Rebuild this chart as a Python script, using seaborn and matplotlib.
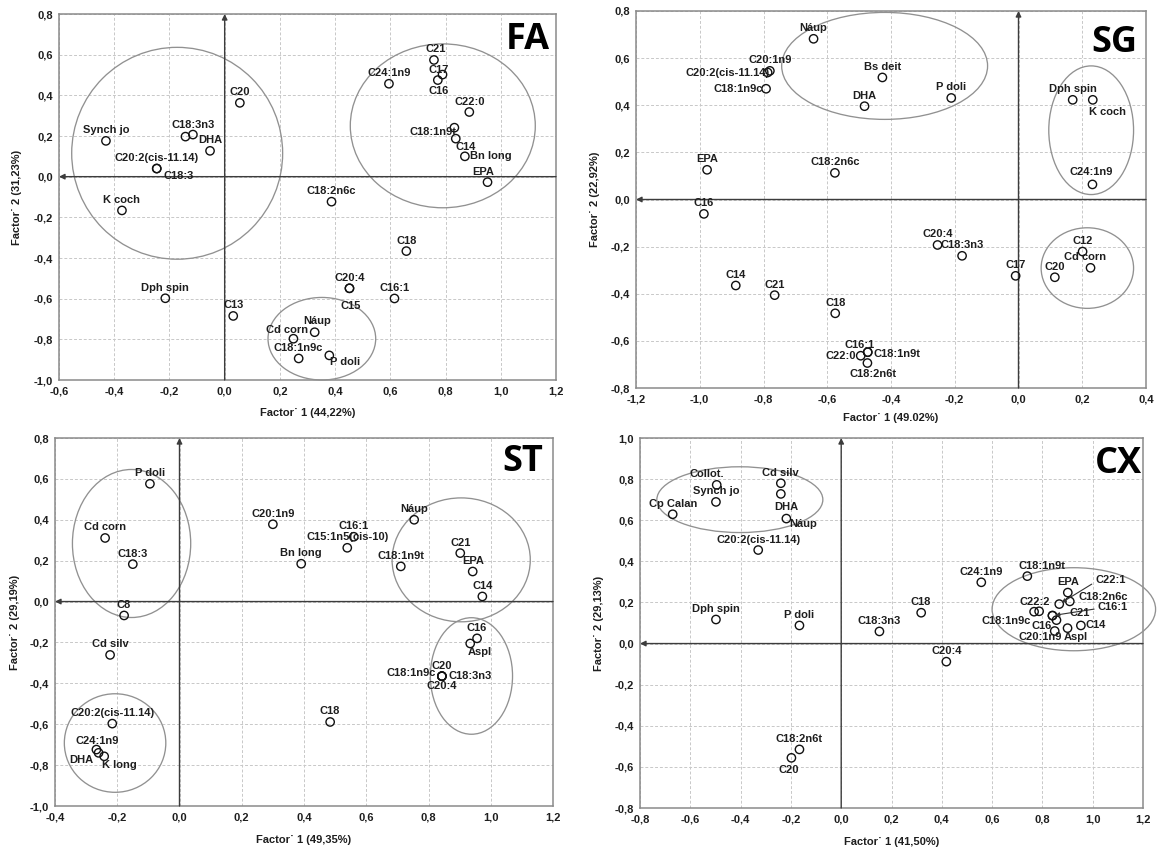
import matplotlib
matplotlib.use("Agg")
import matplotlib.pyplot as plt
import matplotlib.ticker as mticker
from matplotlib.patches import Ellipse
import numpy as np
import pandas as pd
import seaborn as sns

# ------------------------------------------------------------------ data
# FA panel
fa_names = ["Synch jo", "C20:2(cis-11.14)", "C18:3", "C18:3n3", "", "DHA", "C20",
            "K coch", "C18:2n6c", "C24:1n9", "C21", "C17", "C16", "C22:0",
            "C18:1n9t", "C14", "Bn long", "EPA", "C18", "C20:4", "C15", "C16:1",
            "Dph spin", "C13", "Cd corn", "Náup", "C18:1n9c", "P doli"]
fa_x = [-0.43, -0.246, -0.246, -0.142, -0.115, -0.053, 0.055,
        -0.372, 0.387, 0.595, 0.758, 0.789, 0.772, 0.886,
        0.832, 0.837, 0.870, 0.952, 0.658, 0.452, 0.452, 0.615,
        -0.215, 0.031, 0.249, 0.326, 0.268, 0.379]
fa_y = [0.176, 0.040, 0.040, 0.197, 0.207, 0.127, 0.363,
        -0.166, -0.123, 0.457, 0.574, 0.502, 0.475, 0.318,
        0.241, 0.187, 0.100, -0.027, -0.366, -0.549, -0.549, -0.599,
        -0.598, -0.685, -0.797, -0.765, -0.894, -0.879]
fa_group_cx = [-0.172, 0.79, 0.352]
fa_group_cy = [0.115, 0.25, -0.797]
fa_group_rx = [0.382, 0.335, 0.195]
fa_group_ry = [0.521, 0.403, 0.203]

# SG panel
sg_names = ["Náup", "C20:1n9", "C20:2(cis-11.14)", "C18:1n9c", "Bs deit", "DHA",
            "P doli", "Dph spin", "K coch", "C24:1n9", "EPA", "C18:2n6c", "C16",
            "C20:4", "C18:3n3", "C17", "C20", "C12", "Cd corn", "C14", "C21",
            "C18", "C16:1", "C18:1n9t", "C22:0", "C18:2n6t"]
sg_x = [-0.643, -0.780, -0.787, -0.792, -0.427, -0.483,
        -0.211, 0.170, 0.233, 0.232, -0.977, -0.576, -0.987,
        -0.254, -0.177, -0.009, 0.114, 0.201, 0.226, -0.887, -0.765,
        -0.575, -0.473, -0.473, -0.495, -0.474]
sg_y = [0.682, 0.546, 0.539, 0.470, 0.518, 0.396,
        0.431, 0.423, 0.423, 0.064, 0.126, 0.113, -0.061,
        -0.193, -0.239, -0.324, -0.330, -0.221, -0.290, -0.365, -0.406,
        -0.483, -0.648, -0.648, -0.663, -0.694]
sg_group_cx = [-0.420, 0.228, 0.216]
sg_group_cy = [0.567, 0.294, -0.291]
sg_group_rx = [0.323, 0.133, 0.145]
sg_group_ry = [0.227, 0.273, 0.171]

# ST panel
st_names = ["P doli", "Cd corn", "C18:3", "C8", "C20:1n9", "Bn long",
            "C15:1n5(cis-10)", "C16:1", "C18:1n9t", "Náup", "C21", "EPA", "C14",
            "C16", "Aspl", "C20", "C18:1n9c", "C18:3n3", "C20:4", "Cd silv",
            "C20:2(cis-11.14)", "C24:1n9", "DHA", "K long", "C18"]
st_x = [-0.095, -0.239, -0.150, -0.178, 0.300, 0.391,
        0.539, 0.560, 0.711, 0.754, 0.902, 0.942, 0.973,
        0.956, 0.934, 0.843, 0.843, 0.843, 0.843, -0.223,
        -0.216, -0.267, -0.260, -0.242, 0.484]
st_y = [0.576, 0.311, 0.183, -0.068, 0.378, 0.185,
        0.263, 0.317, 0.172, 0.400, 0.237, 0.147, 0.025,
        -0.180, -0.205, -0.365, -0.365, -0.365, -0.365, -0.261,
        -0.597, -0.724, -0.740, -0.757, -0.589]
st_group_cx = [-0.154, -0.207, 0.905, 0.938]
st_group_cy = [0.284, -0.692, 0.204, -0.364]
st_group_rx = [0.190, 0.163, 0.222, 0.132]
st_group_ry = [0.362, 0.241, 0.303, 0.285]

# CX panel
cx_names = ["Collot.", "Synch jo", "Cp Calan", "Cd silv", "DHA", "Náup",
            "C20:2(cis-11.14)", "Dph spin", "P doli", "C18:3n3", "C18", "C24:1n9",
            "C18:1n9t", "C20:4", "C18:2n6t", "C20", "EPA", "C18:2n6c", "C22:1",
            "C22:2", "C18:1n9c", "C16:1", "C16", "C21", "C20:1n9", "Aspl", "C14"]
cx_x = [-0.495, -0.498, -0.670, -0.240, -0.240, -0.218,
        -0.330, -0.498, -0.166, 0.152, 0.318, 0.557,
        0.740, 0.418, -0.166, -0.198, 0.901, 0.909, 0.867,
        0.787, 0.767, 0.840, 0.840, 0.856, 0.849, 0.900, 0.953]
cx_y = [0.772, 0.689, 0.629, 0.780, 0.728, 0.608,
        0.455, 0.117, 0.088, 0.059, 0.150, 0.298,
        0.328, -0.088, -0.515, -0.556, 0.248, 0.205, 0.192,
        0.157, 0.155, 0.136, 0.136, 0.114, 0.061, 0.075, 0.088]
cx_group_cx = [-0.403, 0.925]
cx_group_cy = [0.700, 0.167]
cx_group_rx = [0.330, 0.325]
cx_group_ry = [0.160, 0.202]

axis_limits = {
    "FA": ((-0.6, 1.2), (-1.0, 0.8)),
    "SG": ((-1.2, 0.4), (-0.8, 0.8)),
    "ST": ((-0.4, 1.2), (-1.0, 0.8)),
    "CX": ((-0.8, 1.2), (-0.8, 1.0)),
}
x_titles = {"FA": "Factor˙ 1 (44,22%)", "SG": "Factor˙ 1 (49.02%)",
            "ST": "Factor˙ 1 (49,35%)", "CX": "Factor˙ 1 (41,50%)"}
y_titles = {"FA": "Factor˙ 2 (31,23%)", "SG": "Factor˙ 2 (22,92%)",
            "ST": "Factor˙ 2 (29,19%)", "CX": "Factor˙ 2 (29,13%)"}

# ------------------------------------------------------------------ layout
W, H = 1159, 852
PANEL_BOX = {  # left, top, right, bottom in pixels
    "FA": (59, 14, 556, 380),
    "SG": (636, 11, 1146, 388),
    "ST": (55, 438, 553, 806),
    "CX": (640, 438, 1143, 808),
}
LETTER_POS = {"FA": (6, 35), "SG": (9, 41), "ST": (10, 33), "CX": (1, 35)}
XLABEL_OFF = {"FA": 33, "SG": 30, "ST": 34, "CX": 34}
YLABEL_OFF = {"FA": 42, "SG": 41, "ST": 40, "CX": 41}
DEFAULT_DY = 10.5

LABEL_OFFSETS = {
    "FA": {"C18:3": (22, -7, "center"), "C18:3n3": (8, 12, "center"),
           "C21": (2, 11, "center"), "C17": (-4, 5, "center"),
           "C16": (1, -11, "center"), "C18:1n9t": (2, -4, "right"),
           "C14": (10, -8, "center"), "Bn long": (5, 0, "left"),
           "EPA": (-4, 10, "center"), "C15": (1, -18, "center"),
           "P doli": (16, -7, "center"), "Cd corn": (-6, 9, "center"),
           "Náup": (2, 11, "center")},
    "SG": {"C20:2(cis-11.14)": (2, -1, "right"), "C18:1n9c": (-3, 0, "right"),
           "K coch": (15, -12, "center"), "C24:1n9": (-1, 12, "center"),
           "Cd corn": (-5, 11, "center"), "C16:1": (-8, 7, "center"),
           "C18:1n9t": (6, -2, "left"), "C22:0": (-5, 0, "right"),
           "C18:2n6t": (6, -11, "center")},
    "ST": {"Aspl": (10, -9, "center"), "C18:1n9c": (-6, 3, "right"),
           "C18:3n3": (7, 0, "left"), "C20:4": (0, -10, "center"),
           "C24:1n9": (1, 9, "center"), "DHA": (-17, -7, "center"),
           "K long": (15, -9, "center")},
    "CX": {"Collot.": (-10, 11, "center"), "DHA": (5, -13, "center"),
           "Náup": (17, -5, "center"), "C18:1n9t": (15, 10, "center"),
           "C20": (-3, -12, "center"), "C18:2n6c": (9, 4, "left"),
           "C22:2": (-4, 9, "center"), "C18:1n9c": (-3, -9, "right"),
           "C21": (23, 7, "center"), "C16": (-11, -10, "center"),
           "C20:1n9": (-15, -6, "center"), "Aspl": (8, -9, "center"),
           "C14": (5, 0, "left")},
}
ARROW_LABELS = {"CX": {"C22:1": (51, 24), "C16:1": (60, 9)}}

# ------------------------------------------------------------------ style
sns.set_theme(style="whitegrid")
plt.rcParams["font.family"] = ["Liberation Sans", "DejaVu Sans"]
plt.rcParams["font.weight"] = "bold"
plt.rcParams["axes.labelweight"] = "bold"

TXT = "#1e1e1e"
FS = 8


def comma_fmt(v, pos=None):
    s = f"{v:.1f}".replace(".", ",")
    return "0,0" if s == "-0,0" else s


fig = plt.figure(figsize=(W / 100, H / 100), dpi=100)
fig.patch.set_facecolor("white")


def add_panel(key, names, xs, ys, gcx, gcy, grx, gry):
    l, t, r, b = PANEL_BOX[key]
    wpx, hpx = r - l, b - t
    ax = fig.add_axes([l / W, 1 - b / H, wpx / W, hpx / H])
    ax.set_facecolor("white")
    (x0, x1), (y0, y1) = axis_limits[key]

    df = pd.DataFrame({"x": xs, "y": ys, "name": names})
    sns.scatterplot(data=df, x="x", y="y", ax=ax, marker="o", s=36,
                    color="black", linewidth=1.0, zorder=5, legend=False)
    coll = ax.collections[-1]
    coll.set_facecolor("none")
    coll.set_edgecolor("#111111")
    coll.set_clip_on(False)

    for cx, cy, rx, ry in zip(gcx, gcy, grx, gry):
        ax.add_patch(Ellipse((cx, cy), 2 * rx, 2 * ry, fill=False,
                             edgecolor="#919191", lw=0.95, zorder=3, clip_on=False))

    # axes through the origin with arrows
    arr = dict(arrowstyle="-|>", color="#3c3c3c", lw=1.0, mutation_scale=8,
               shrinkA=0, shrinkB=0)
    ax.annotate("", xy=(x0, 0), xytext=(x1, 0), arrowprops=arr, zorder=4)
    ax.annotate("", xy=(0, y1), xytext=(0, y0), arrowprops=arr, zorder=4)

    offs = LABEL_OFFSETS.get(key, {})
    arrows = ARROW_LABELS.get(key, {})
    for n, xv, yv in zip(names, xs, ys):
        if not n:
            continue
        if n in arrows:
            dx, dy = arrows[n]
            ax.annotate(n, (xv, yv), xytext=(dx, dy), textcoords="offset pixels",
                        ha="center", va="center", fontsize=FS, color=TXT,
                        zorder=6, annotation_clip=False,
                        arrowprops=dict(arrowstyle="-|>", color="#333333", lw=0.8,
                                        mutation_scale=6, shrinkA=0, shrinkB=2,
                                        relpos=(0.0, 0.3)))
            continue
        dx, dy, ha = offs.get(n, (0, DEFAULT_DY, "center"))
        ax.annotate(n, (xv, yv), xytext=(dx, dy), textcoords="offset pixels",
                    ha=ha, va="center", fontsize=FS, color=TXT, zorder=6,
                    annotation_clip=False)

    ax.set_xlim(x0, x1)
    ax.set_ylim(y0, y1)
    ax.set_xticks(np.round(np.arange(x0, x1 + 1e-9, 0.2), 1))
    ax.set_yticks(np.round(np.arange(y0, y1 + 1e-9, 0.2), 1))
    ax.xaxis.set_major_formatter(mticker.FuncFormatter(comma_fmt))
    ax.yaxis.set_major_formatter(mticker.FuncFormatter(comma_fmt))
    ax.tick_params(length=0, pad=4.5, labelsize=FS, labelcolor=TXT)
    ax.grid(True, linestyle=(0, (3, 2)), color="#c8c8c8", lw=0.7)
    ax.set_axisbelow(True)
    for s in ax.spines.values():
        s.set_visible(True)
        s.set_color("#8a8a8a")
        s.set_linewidth(1.1)

    ax.set_xlabel(x_titles[key], fontsize=FS, color=TXT)
    ax.set_ylabel(y_titles[key], fontsize=FS, color=TXT)
    ax.xaxis.set_label_coords(0.5, -XLABEL_OFF[key] / hpx)
    ax.yaxis.set_label_coords(-YLABEL_OFF[key] / wpx, 0.5)
    ax.xaxis.label.set_va("center")
    ax.yaxis.label.set_va("center")

    inset, base = LETTER_POS[key]
    ax.text(1 - inset / wpx, 1 - base / hpx, key, transform=ax.transAxes,
            ha="right", va="baseline", fontsize=26, fontweight="bold",
            family=["Open Sans", "DejaVu Sans"], color="black", zorder=7)
    return ax


add_panel("FA", fa_names, fa_x, fa_y, fa_group_cx, fa_group_cy, fa_group_rx, fa_group_ry)
add_panel("SG", sg_names, sg_x, sg_y, sg_group_cx, sg_group_cy, sg_group_rx, sg_group_ry)
add_panel("ST", st_names, st_x, st_y, st_group_cx, st_group_cy, st_group_rx, st_group_ry)
add_panel("CX", cx_names, cx_x, cx_y, cx_group_cx, cx_group_cy, cx_group_rx, cx_group_ry)

fig.savefig("out.png", dpi=100, facecolor="white")
